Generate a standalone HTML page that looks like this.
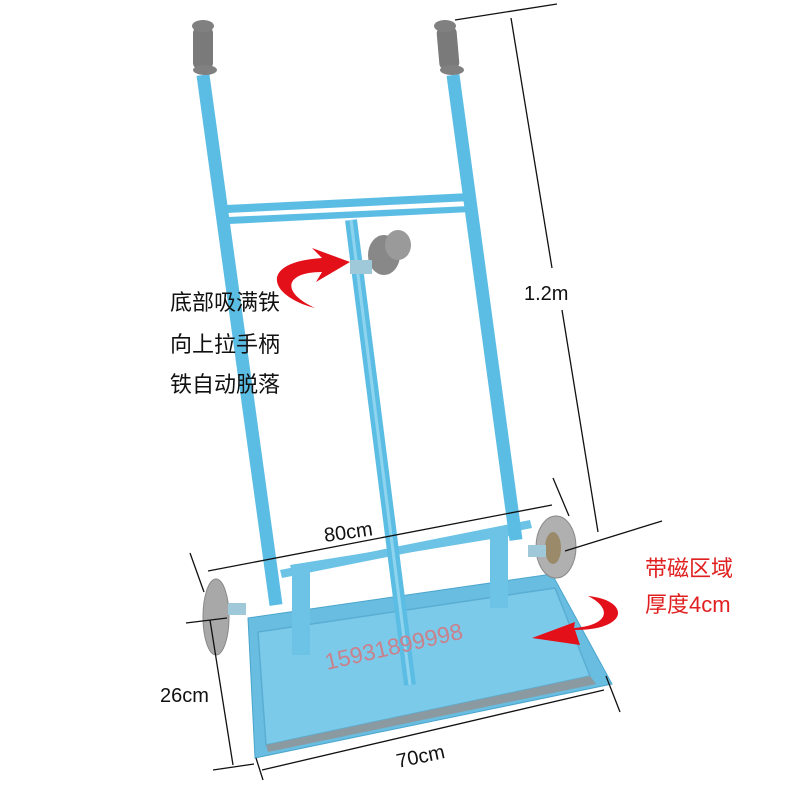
<!DOCTYPE html>
<html><head><meta charset="utf-8"><style>
html,body{margin:0;padding:0;background:#fff}
svg{display:block}
text{font-family:"Liberation Sans","Noto Sans CJK SC",sans-serif}
</style></head><body>
<svg width="800" height="800" viewBox="0 0 800 800" xmlns="http://www.w3.org/2000/svg">
<rect width="800" height="800" fill="#fff"/>
<!-- base plate -->
<polygon points="248,618 552,574 612,684 255,758" fill="#68bde0" stroke="#4aa5cc" stroke-width="1"/>
<polygon points="258,632 555,588 590,676 266,745" fill="#7ccaea" stroke="#5aaed3" stroke-width="1.5"/>
<polygon points="266,745 590,676 596,684 268,752" fill="#8a9aa0"/>
<!-- back rails -->
<polygon points="280,570 530,520 532,528 282,578" fill="#6cc3e6"/>
<polygon points="290,565 508,530 510,536 292,572" fill="#6cc3e6"/>
<rect x="292" y="570" width="18" height="85" fill="#6cc3e6"/>
<rect x="490" y="528" width="18" height="80" fill="#6cc3e6"/>
<!-- wheels -->
<ellipse cx="216" cy="617" rx="13" ry="38" fill="#a8a8a8" stroke="#888"/>
<rect x="228" y="603" width="18" height="12" fill="#9fc9d8"/>
<ellipse cx="556" cy="547" rx="20" ry="31" fill="#b0b0b0" stroke="#888"/>
<ellipse cx="553" cy="548" rx="8" ry="16" fill="#9a8a6a"/>
<rect x="528" y="545" width="18" height="12" fill="#9fc9d8"/>
<!-- tubes -->
<line x1="203" y1="75" x2="276" y2="605" stroke="#5cbde4" stroke-width="13"/>
<line x1="453" y1="75" x2="516" y2="540" stroke="#5cbde4" stroke-width="13"/>
<polygon points="226,205 470,193 471,201 227,213" fill="#5cbde4"/>
<polygon points="228,217 470,206 471,212 229,224" fill="#5cbde4"/>
<line x1="351" y1="220" x2="410" y2="685" stroke="#5cbde4" stroke-width="12"/>
<line x1="351" y1="220" x2="410" y2="685" stroke="#8fd4ee" stroke-width="3"/>
<!-- grips -->
<rect x="193" y="27" width="20" height="42" rx="6" fill="#7a7a7a"/>
<ellipse cx="203" cy="26" rx="11" ry="6" fill="#808080"/>
<ellipse cx="205" cy="70" rx="12" ry="5" fill="#808080"/>
<rect x="438" y="27" width="20" height="42" rx="6" fill="#7a7a7a" transform="rotate(-5 448 48)"/>
<ellipse cx="445" cy="26" rx="11" ry="6" fill="#808080"/>
<ellipse cx="452" cy="70" rx="12" ry="5" fill="#808080"/>
<!-- knob -->
<ellipse cx="384" cy="255" rx="16" ry="20" fill="#888"/>
<ellipse cx="398" cy="245" rx="13" ry="15" fill="#9a9a9a"/>
<rect x="350" y="260" width="22" height="14" fill="#9fc9d8"/>
<!-- red arrows -->
<path d="M315,308 C268,296 258,262 322,258 L312,248 L350,262 L316,282 L322,272 C285,272 280,292 315,308 Z" fill="#e3101a"/>
<path d="M588,596 C630,600 630,630 575,630 L580,645 L532,638 L575,622 L574,628 C610,625 612,608 588,596 Z" fill="#e3101a"/>
<!-- watermark -->
<text x="327" y="670" font-size="23" fill="#c9818c" transform="rotate(-13 327 670)" font-family="Liberation Serif,serif">15931899998</text>
<!-- dimension lines -->
<g stroke="#111" stroke-width="1.3" fill="none">
<line x1="455" y1="20" x2="557" y2="4"/>
<line x1="511" y1="18" x2="552" y2="268"/>
<line x1="562" y1="310" x2="598" y2="532"/>
<line x1="208" y1="571" x2="552" y2="505"/>
<line x1="553" y1="478" x2="569" y2="516"/>
<line x1="190" y1="553" x2="204" y2="592"/>
<line x1="565" y1="551" x2="662" y2="521"/>
<line x1="186" y1="623" x2="227" y2="618"/>
<line x1="210" y1="620" x2="233" y2="765"/>
<line x1="213" y1="770" x2="254" y2="764"/>
<line x1="262" y1="770" x2="604" y2="690"/>
<line x1="256" y1="758" x2="263" y2="780"/>
<line x1="606" y1="676" x2="620" y2="712"/>
</g>
<text x="524" y="300" font-size="20" fill="#111" font-family="Liberation Mono,monospace">1.2m</text>
<text x="325" y="542" font-size="20" fill="#111" transform="rotate(-8 325 542)">80cm</text>
<text x="160" y="702" font-size="20" fill="#111">26cm</text>
<text x="398" y="768" font-size="20" fill="#111" transform="rotate(-12 398 768)">70cm</text>
<text x="170" y="310" font-size="22" fill="#111">底部吸满铁</text>
<text x="170" y="352" font-size="22" fill="#111">向上拉手柄</text>
<text x="170" y="392" font-size="22" fill="#111">铁自动脱落</text>
<text x="645" y="576" font-size="22" fill="#e02020">带磁区域</text>
<text x="645" y="612" font-size="22" fill="#e02020">厚度4cm</text>
</svg>
</body></html>
